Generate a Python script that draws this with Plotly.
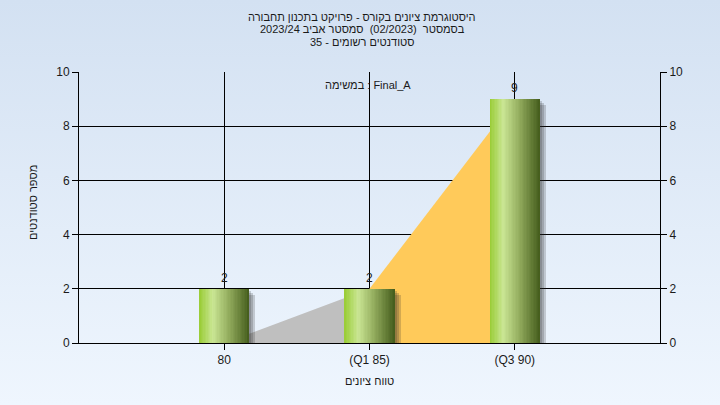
import base64
import plotly.graph_objects as go

# ---------------- data ----------------
categories = ["80", "(Q1 85)", "(Q3 90)"]
x_pos = [1, 2, 3]
counts = [2, 2, 9]
range_area = [0, 2, 9]          # envelope drawn behind the bars
y_ticks = [0, 2, 4, 6, 8, 10]

title_lines = [
    "היסטוגרמת ציונים בקורס - פרויקט בתכנון תחבורה",
    "בסמסטר\u00a0 (02/2023)\u00a0 סמסטר אביב 2023/24",
    "סטודנטים רשומים - 35",
]
task_label = "במשימה : Final_A"
x_title = "טווח ציונים"
y_title = "מספר סטודנטים"

FONT = "Liberation Sans, Arial, sans-serif"
TXT = "#1a1a1a"

W, H = 720, 405
ML, MR, MT, MB = 79, 60, 72, 62
PW, PH = W - ML - MR, H - MT - MB
XR = [0, 4]
YR = [0, 10]
px_x = (XR[1] - XR[0]) / PW
px_y = (YR[1] - YR[0]) / PH


def px2paper_x(p):
    return (p - ML) / PW


def px2paper_y(p):
    return (H - MB - p) / PH


fig = go.Figure()

# ---- shadows ----
bw = 0.345
for d in [2, 4, 6]:
    fig.add_trace(go.Bar(
        x=x_pos, y=[c - d * px_y for c in counts],
        width=bw, offset=-bw / 2 + d * px_x,
        marker=dict(color="rgba(40,40,40,0.2)", line=dict(width=0)),
        hoverinfo="skip", showlegend=False))

# ---- gradient bars ----
stops = [(0.0, (152, 204, 52)), (0.27, (202, 230, 148)),
         (0.6, (145, 170, 92)), (1.0, (68, 92, 28))]


def grad(t):
    for (t0, c0), (t1, c1) in zip(stops[:-1], stops[1:]):
        if t0 <= t <= t1:
            f = (t - t0) / (t1 - t0)
            return "rgb(%d,%d,%d)" % tuple(round(a + (b - a) * f) for a, b in zip(c0, c1))
    return "rgb(%d,%d,%d)" % stops[-1][1]


N = 36
sw = bw / N
for i in range(N):
    t = (i + 0.5) / N
    fig.add_trace(go.Bar(
        x=x_pos, y=counts,
        width=sw * (1.6 if i < N - 1 else 1.0), offset=-bw / 2 + i * sw,
        marker=dict(color=grad(t), line=dict(width=0)),
        hoverinfo="skip", showlegend=False))

# invisible trace so the right axis is drawn
fig.add_trace(go.Scatter(x=x_pos, y=counts, yaxis="y2", mode="markers",
                         marker=dict(opacity=0), hoverinfo="skip", showlegend=False))

# ---- envelope areas (between grid and traces) ----
gray_path = "M {0},0 L {0},{1} L {2},{3} L {2},0 Z".format(
    x_pos[0], range_area[0], x_pos[1], range_area[1])
orange_path = "M {0},0 L {0},{1} L {2},{3} L {2},0 Z".format(
    x_pos[1], range_area[1], x_pos[2], range_area[2])
shapes = [
    dict(type="path", path=gray_path, xref="x", yref="y", layer="between",
         fillcolor="#bfbfbf", line=dict(width=0)),
    dict(type="path", path=orange_path, xref="x", yref="y", layer="between",
         fillcolor="#ffca5a", line=dict(width=0)),
]

# ---- background gradient image ----
svg = ('<svg xmlns="http://www.w3.org/2000/svg" width="720" height="405" '
       'preserveAspectRatio="none" viewBox="0 0 720 405">'
       '<defs><linearGradient id="g" x1="0" y1="0" x2="0" y2="1">'
       '<stop offset="0" stop-color="#d3e1f2"/>'
       '<stop offset="1" stop-color="#eff6fe"/>'
       '</linearGradient></defs>'
       '<rect width="720" height="405" fill="url(#g)"/></svg>')
bg_src = "data:image/svg+xml;base64," + base64.b64encode(svg.encode()).decode()

hfont = dict(family=FONT, size=11, color=TXT)
tfont = dict(family=FONT, size=12, color=TXT)
anns = []
for k, line in enumerate(title_lines):
    anns.append(dict(text=line, xref="paper", yref="paper",
                     x=px2paper_x(362), y=px2paper_y(17 + 12.3 * k),
                     showarrow=False, xanchor="center", yanchor="middle",
                     font=hfont))
anns.append(dict(text=task_label, xref="paper", yref="paper",
                 x=px2paper_x(368), y=px2paper_y(85),
                 showarrow=False, xanchor="center", yanchor="middle", font=hfont))
anns.append(dict(text=x_title, xref="paper", yref="paper",
                 x=px2paper_x(369), y=px2paper_y(381), showarrow=False,
                 xanchor="center", yanchor="middle", font=hfont))
anns.append(dict(text=y_title, xref="paper", yref="paper",
                 x=px2paper_x(33), y=px2paper_y(203), showarrow=False,
                 textangle=-90, xanchor="center", yanchor="middle", font=hfont))
# value labels above bars
for xv, c in zip(x_pos, counts):
    anns.append(dict(text=str(c), x=xv, y=c, xref="x", yref="y", showarrow=False,
                     xanchor="center", yanchor="middle", yshift=11, font=tfont))

axis_common = dict(showline=True, linecolor="black", linewidth=1,
                   ticks="outside", tickcolor="black", ticklen=6,
                   zeroline=False, fixedrange=True,
                   tickfont=dict(family=FONT, size=12, color=TXT))

fig.update_layout(
    width=W, height=H,
    margin=dict(l=ML, r=MR, t=MT, b=MB, pad=0),
    barmode="overlay", bargap=0,
    paper_bgcolor="#e2ecf8", plot_bgcolor="#b4b4b4",
    showlegend=False,
    xaxis=dict(range=XR, tickvals=x_pos, ticktext=categories,
               showgrid=True, gridcolor="black", gridwidth=1, **axis_common),
    yaxis=dict(range=YR, tickvals=y_ticks, showgrid=True, gridcolor="black",
               gridwidth=1, **axis_common),
    yaxis2=dict(range=YR, tickvals=y_ticks, overlaying="y", side="right",
                showgrid=False, **axis_common),
    shapes=shapes,
    annotations=anns,
    images=[dict(source=bg_src, xref="paper", yref="paper",
                 x=-ML / PW, y=1 + MT / PH, sizex=W / PW, sizey=H / PH,
                 xanchor="left", yanchor="top", sizing="stretch", layer="below")],
)

fig.write_html("out.html", config={"displayModeBar": False},
               post_script="document.body.style.margin='0';")
